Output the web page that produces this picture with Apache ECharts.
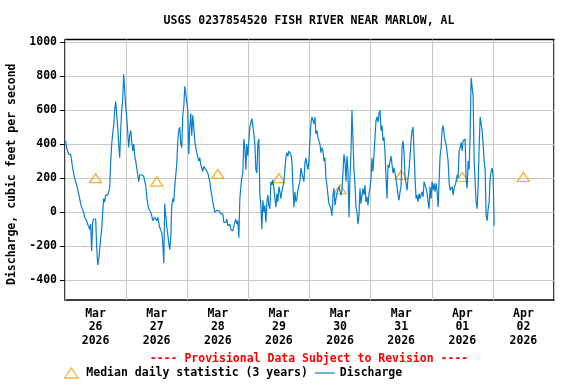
<!DOCTYPE html>
<html><head><meta charset="utf-8">
<script src="https://cdn.jsdelivr.net/npm/echarts@6/dist/echarts.min.js"></script>
<style>html,body{margin:0;padding:0;background:#fff}#c{width:576px;height:384px}</style>
</head><body><div id="c"></div>
<script>
const titleText = 'USGS 0237854520 FISH RIVER NEAR MARLOW, AL';
const yAxisName = 'Discharge, cubic feet per second';
const provisionalText = '---- Provisional Data Subject to Revision ----';
const medianName = 'Median daily statistic (3 years)';
const dischargeName = 'Discharge';
const yTickValues = [-400, -200, 0, 200, 400, 600, 800, 1000];
const dayList = ['2026-03-26','2026-03-27','2026-03-28','2026-03-29','2026-03-30','2026-03-31','2026-04-01','2026-04-02'];
const monthNames = ['Jan','Feb','Mar','Apr','May','Jun','Jul','Aug','Sep','Oct','Nov','Dec'];
const medianValues = [200, 180, 225, 200, 135, 219, 207, 207];
const dischargeFirst = '2026-03-26T00:15:00Z';
const dischargeLast = '2026-04-02T00:30:00Z';
const dischargeValues = [
420,380,360,340,330,340,300,260,230,200,180,160,150,110,80,50,30,20,0,-30,-40,-50,-70,-80,-100,-70,-228,-60,-40,-30,-40,-200,-310,-280,-220,-150,-100,0,80,60,100,110,100,120,140,300,400,460,510,600,650,660,500,400,320,480,600,660,810,820,620,560,570,380,450,480,420,360,400,330,300,260,220,180,220,210,220,
220,210,180,160,90,50,20,10,0,-20,-50,-60,-30,-20,-50,-30,-60,-90,-100,-120,-180,-300,50,-20,-80,-90,-180,-220,-150,40,80,60,150,220,280,420,480,500,400,380,570,620,740,750,650,600,340,500,580,450,570,500,420,380,350,340,300,320,280,260,240,270,280,250,260,230,220,180,130,100,60,30,0,-10,10,20,10,0,-10,-20,-10,-60,-70,
-60,-40,-80,-90,-70,-100,-90,-110,-100,-60,-40,-70,-50,-150,80,150,200,230,430,380,250,400,330,420,500,530,550,560,460,400,250,230,400,430,100,40,-100,70,0,40,-60,60,100,40,20,180,160,190,140,80,30,110,60,150,120,80,120,150,180,250,320,350,330,360,370,340,300,150,30,120,60,80,130,160,180,260,250,200,180,290,320,280,
250,300,430,520,560,560,520,560,460,480,440,430,400,350,380,360,300,320,200,160,100,50,40,20,-20,100,140,40,80,110,130,150,140,100,130,120,340,300,180,330,240,-30,200,350,600,590,250,160,30,0,-70,-20,140,50,100,140,100,160,60,90,40,110,140,200,320,240,340,330,540,560,530,580,600,480,510,420,440,350,200,80,280,
260,300,330,280,230,260,230,220,150,100,70,120,150,380,420,350,200,170,130,200,250,330,420,480,500,350,200,80,100,60,110,80,100,120,90,180,170,140,110,60,20,150,80,180,130,170,120,170,120,30,180,330,380,480,510,520,420,400,350,300,180,130,120,150,100,140,150,180,220,200,360,380,410,360,420,410,430,200,140,300,250,450,
790,780,680,300,180,60,20,150,380,560,520,480,400,300,250,-20,-50,20,60,200,240,260,210,-80
];

const FONT = 'DejaVu Sans Mono';
const BLUE = '#0a7fcc';
const ORANGE = '#f39c00';
const t0 = Date.parse(dischargeFirst), t1 = Date.parse(dischargeLast);
const step = (t1 - t0) / (dischargeValues.length - 1);
const dischargeData = dischargeValues.map((v, i) => [t0 + i * step, v]);
const DAY = 86400000;
const dayStarts = dayList.map(d => Date.parse(d + 'T00:00:00Z'));
const noonTimes = dayStarts.map(t => t + DAY / 2);
const midnights = dayStarts.concat([dayStarts[dayStarts.length - 1] + DAY]);
const medianData = noonTimes.map((t, i) => [t, medianValues[i]]);
const txt = (extra) => Object.assign({fontFamily: FONT, fontWeight: 'bold', fontSize: 11.5, color: '#000'}, extra || {});

const chart = echarts.init(document.getElementById('c'), null, {renderer: 'canvas'});
chart.setOption({
  animation: false,
  backgroundColor: '#fff',
  title: [
    {text: titleText, left: 304, top: 10, textAlign: 'center', textStyle: txt()},
    {text: provisionalText, left: 304, top: 348, textAlign: 'center', textStyle: txt({color: '#ff0000'})}
  ],
  legend: {
    left: 59, top: 362, itemWidth: 20, itemHeight: 10, itemGap: 7,
    textStyle: txt(),
    data: [
      {name: medianName, icon: 'path://M6,0L12,9L0,9Z',
       itemStyle: {color: 'rgba(0,0,0,0)', borderColor: ORANGE, borderWidth: 1.3}},
      {name: dischargeName, icon: 'path://M0,0L20,0L20,1.2L0,1.2Z', itemStyle: {color: BLUE, borderWidth: 0}}
    ]
  },
  grid: {left: 65, right: 22, top: 39.5, bottom: 84, show: true, borderColor: '#000', borderWidth: 1.5,
         containLabel: false, outerBoundsMode: 'none'},
  xAxis: {
    type: 'value',
    min: dayStarts[0], max: midnights[midnights.length - 1],
    axisLine: {show: false},
    axisTick: {show: false, customValues: midnights},
    splitLine: {show: true, lineStyle: {color: '#c8c8c8', width: 1}},
    axisLabel: Object.assign(txt({lineHeight: 13.5}), {
      customValues: noonTimes, margin: 7,
      formatter: v => { const d = new Date(v); return monthNames[d.getUTCMonth()] + '\n' + String(d.getUTCDate()).padStart(2, '0') + '\n' + d.getUTCFullYear(); }
    })
  },
  yAxis: {
    type: 'value', min: -516, max: 1015,
    name: yAxisName, nameLocation: 'middle', nameGap: 41,
    nameTextStyle: txt({padding: [0, 9, 0, 0]}),
    axisLine: {show: false},
    axisTick: {show: true, length: 5, customValues: yTickValues, lineStyle: {color: '#000'}},
    splitLine: {show: true, lineStyle: {color: '#c8c8c8', width: 1}},
    axisLabel: Object.assign(txt(), {customValues: yTickValues, margin: 8, formatter: v => String(v)})
  },
  series: [
    {name: medianName, type: 'scatter', data: medianData, symbol: 'triangle', symbolSize: [12, 9],
     itemStyle: {color: 'rgba(0,0,0,0)', borderColor: ORANGE, borderWidth: 1.3}},
    {name: dischargeName, type: 'line', data: dischargeData, showSymbol: false, symbol: 'none',
     sampling: false, lineStyle: {color: BLUE, width: 1.2}, itemStyle: {color: BLUE}}
  ]
});
</script></body></html>
